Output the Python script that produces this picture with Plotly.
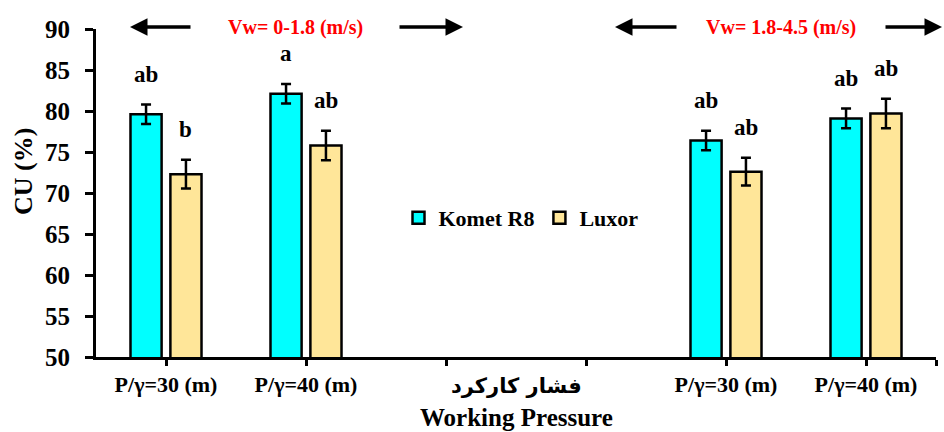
import plotly.graph_objects as go

categories = ["P/γ=30 (m)", "P/γ=40 (m)", "", "", "P/γ=30 (m)", "P/γ=40 (m)"]
komet = [79.6, 82.1, None, None, 76.4, 79.1]
komet_err = [1.2, 1.2, None, None, 1.2, 1.2]
luxor = [72.3, 75.8, None, None, 72.6, 79.7]
luxor_err = [1.75, 1.8, None, None, 1.7, 1.8]
komet_letters = ["ab", "a", None, None, "ab", "ab"]
luxor_letters = ["b", "ab", None, None, "ab", "ab"]
series_names = ["Komet R8", "Luxor"]
zone_labels = ["Vw= 0-1.8 (m/s)", "Vw= 1.8-4.5 (m/s)"]
y_ticks = [50, 55, 60, 65, 70, 75, 80, 85, 90]

xpos = list(range(len(categories)))
FONT = "Liberation Serif"
BARGAP = 0.43
GROUPGAP = 0.22

fig = go.Figure()
fig.add_trace(go.Bar(
    x=xpos, y=komet, name=series_names[0],
    marker=dict(color="#00FFFF", line=dict(color="black", width=2.5)),
    error_y=dict(type="data", array=komet_err, color="black", thickness=2.5, width=5),
))
fig.add_trace(go.Bar(
    x=xpos, y=luxor, name=series_names[1],
    marker=dict(color="#FFE699", line=dict(color="black", width=2.5)),
    error_y=dict(type="data", array=luxor_err, color="black", thickness=2.5, width=5),
))

annotations = []
slot = (1 - BARGAP) / 2
for vals, errs, letters, off in [(komet, komet_err, komet_letters, -slot / 2),
                                 (luxor, luxor_err, luxor_letters, slot / 2)]:
    for i, (v, e, t) in enumerate(zip(vals, errs, letters)):
        if v is None:
            continue
        annotations.append(dict(
            x=xpos[i] + off, y=v + e, xref="x", yref="y", text="<b>%s</b>" % t, showarrow=False,
            xanchor="center", yanchor="middle", yshift=30,
            font=dict(family=FONT, size=23, color="black")))

W0, W1 = 96, 936
def px(x):
    return (x - W0) / (W1 - W0)

ytop = 1.006
for lbl, cx in zip(zone_labels, [295, 781]):
    annotations.append(dict(x=px(cx), y=ytop, xref="paper", yref="paper", text="<b>%s</b>" % lbl,
                            showarrow=False, xanchor="center", yanchor="middle",
                            font=dict(family=FONT, size=20, color="#FF0000")))
for head, ax in [(130, 62), (463, -65), (615, 63), (942, -58)]:
    annotations.append(dict(x=px(head), y=ytop, xref="paper", yref="paper", text="",
                            showarrow=True, ax=ax, ay=0, arrowhead=2, arrowsize=1,
                            arrowwidth=3.5, arrowcolor="black"))
annotations.append(dict(x=px(516), y=-29 / 328, xref="paper", yref="paper", text="<b>فشار کارکرد</b>",
                        showarrow=False, xanchor="center", yanchor="middle",
                        font=dict(family="DejaVu Sans", size=21, color="black")))
annotations.append(dict(x=px(516), y=-60 / 328, xref="paper", yref="paper", text="<b>Working Pressure</b>",
                        showarrow=False, xanchor="center", yanchor="middle",
                        font=dict(family=FONT, size=25, color="black")))
annotations.append(dict(x=px(23), y=(357 - 172) / 328, xref="paper", yref="paper", text="<b>CU (%)</b>",
                        showarrow=False, textangle=-90, xanchor="center", yanchor="middle",
                        font=dict(family=FONT, size=26, color="black")))

fig.update_layout(
    width=944, height=432,
    margin=dict(l=96, r=8, t=29, b=75),
    paper_bgcolor="white", plot_bgcolor="white",
    barmode="group", bargap=BARGAP, bargroupgap=GROUPGAP,
    showlegend=True,
    legend=dict(orientation="h", x=px(521), y=(357 - 218) / 328, xanchor="center", yanchor="middle",
                font=dict(family=FONT, size=22, color="black", weight="bold"),
                bgcolor="rgba(0,0,0,0)", itemwidth=30),
    annotations=annotations,
)
fig.update_xaxes(
    range=[-0.5, 5.5], tickmode="array", tickvals=xpos + [5.5],
    ticktext=["<b>%s</b>" % c if c else "" for c in categories] + [""],
    showline=True, linecolor="black", linewidth=3, ticks="outside", ticklen=6, tickwidth=2.5,
    tickcolor="black", showgrid=False, zeroline=False,
    tickfont=dict(family=FONT, size=22, color="black"),
)
fig.update_yaxes(
    range=[50, 90], tickmode="array", tickvals=y_ticks,
    showline=True, linecolor="black", linewidth=3, ticks="outside", ticklen=8, tickwidth=2.5,
    tickcolor="black", showgrid=False, zeroline=False, ticklabelstandoff=10,
    tickfont=dict(family=FONT, size=25, color="black", weight="bold"),
)

fig.write_html("out.html")
